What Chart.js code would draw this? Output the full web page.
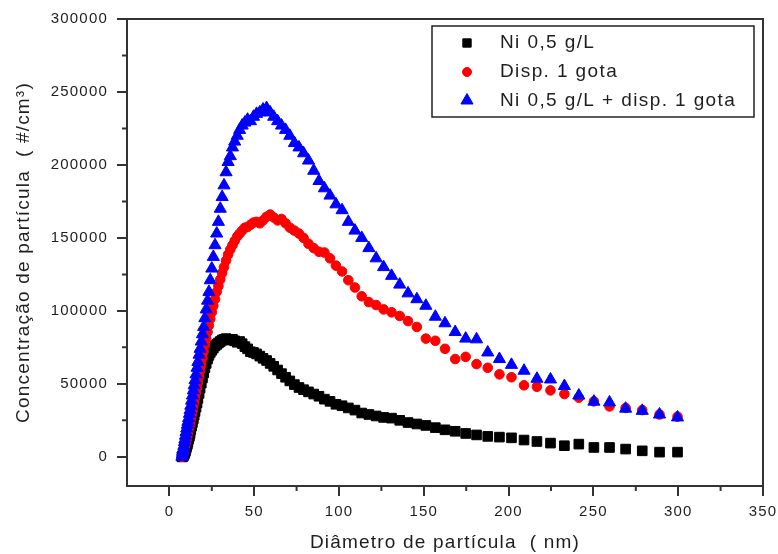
<!DOCTYPE html>
<html>
<head>
<meta charset="utf-8">
<script src="https://cdn.jsdelivr.net/npm/chart.js@4.4.0/dist/chart.umd.min.js"></script>
<style>
    body { margin: 0; background: #fff; }
</style>
</head>
<body>
<canvas id="size-chart" width="778" height="554"></canvas>
<script>
// particle diameter (nm), one value per sizer channel
const diameters = [
    7.37, 7.64, 7.91, 8.20, 8.51, 8.82, 9.14, 9.47, 9.82, 10.2,
    10.6, 10.9, 11.3, 11.8, 12.2, 12.6, 13.1, 13.6, 14.1, 14.6,
    15.1, 15.7, 16.3, 16.8, 17.5, 18.1, 18.8, 19.5, 20.2, 20.9,
    21.7, 22.5, 23.3, 24.1, 25.0, 25.9, 26.9, 27.9, 28.9, 30.0,
    31.1, 32.2, 33.4, 34.6, 35.9, 37.2, 38.5, 40.0, 41.4, 42.9,
    44.5, 46.1, 47.8, 49.6, 51.4, 53.3, 55.2, 57.3, 59.4, 61.5,
    63.8, 66.1, 68.5, 71.0, 73.7, 76.4, 79.1, 82.0, 85.1, 88.2,
    91.4, 94.7, 98.2, 101.8, 105.5, 109.4, 113.4, 117.6, 121.9, 126.3,
    131.0, 135.8, 140.7, 145.9, 151.2, 156.8, 162.5, 168.5, 174.7, 181.1,
    187.7, 194.6, 201.7, 209.1, 216.7, 224.7, 232.9, 241.4, 250.3, 259.5,
    269.0, 278.8, 289.0, 299.6
]

// Ni 0,5 g/L
const niConc = [
    0, 0, 300, 700, 1200, 2000, 3000, 4000, 5500, 7000,
    8500, 10000, 12000, 14000, 16000, 18500, 21000, 23500, 26000, 28500,
    31000, 34000, 37000, 40000, 43500, 47000, 50500, 54000, 57500, 61000,
    64000, 67000, 69500, 71500, 73000, 74500, 76000, 77000, 78000, 79000,
    80000, 80500, 81000, 80500, 80000, 80500, 79500, 78500, 79000, 77500,
    75500, 74000, 72000, 71500, 70500, 69000, 67500, 66000, 64000, 62000,
    59500, 57000, 54500, 52000, 49500, 47500, 46000, 44500, 43000, 41500,
    39500, 38000, 36000, 35000, 33500, 32000, 30000, 29000, 28000, 27000,
    26500, 25000, 23500, 22500, 21500, 20000, 18500, 17500, 16000, 15000,
    14000, 13500, 13000, 11500, 10500, 9400, 7600, 8700, 6400, 6400,
    5300, 4100, 3200, 3200
]

// Disp. 1 gota
const dispConc = [
    0, 500, 1500, 2500, 4000, 5500, 7000, 8500, 10500, 12500,
    14500, 16500, 18500, 21000, 23000, 25500, 28500, 31500, 34500, 37500,
    40500, 44000, 47500, 51000, 55000, 59000, 63000, 67500, 72000, 76500,
    81000, 85500, 90000, 94500, 99000, 103500, 108000, 113000, 117000, 121500,
    126000, 130000, 134500, 138500, 142000, 145000, 148000, 151000, 153000, 155000,
    157000, 157500, 159000, 160500, 161000, 160000, 162000, 164500, 166000, 164000,
    162000, 163000, 160000, 157000, 155000, 153000, 150000, 146000, 143000, 140500,
    140000, 136000, 131000, 127000, 121000, 116000, 110000, 106000, 104000, 101000,
    99000, 96500, 93000, 89000, 81000, 79500, 74000, 67000, 68500, 63500,
    61000, 56500, 54500, 49000, 48000, 45500, 43000, 40500, 38000, 34500,
    33500, 32000, 29000, 27500
]

// Ni 0,5 g/L + disp. 1 gota
const niDispConc = [
    0, 1500, 3500, 5500, 7500, 10000, 12000, 14500, 17000, 19500,
    22000, 24000, 26500, 29500, 32000, 35000, 38500, 42000, 45500, 49000,
    52500, 56500, 61000, 65000, 70000, 74000, 79000, 84000, 89000, 95000,
    101000, 107000, 113000, 121000, 129000, 137000, 145000, 153000, 161000, 170000,
    178000, 186000, 195000, 202000, 206000, 212000, 216000, 220000, 224000, 227000,
    229000, 231000, 230000, 233000, 235000, 236000, 238000, 239000, 236000, 233000,
    230000, 227000, 224000, 220000, 215000, 212000, 208000, 203000, 196000, 189000,
    184000, 179000, 173000, 169000, 161000, 155000, 150000, 143000, 136000, 130000,
    124000, 118000, 112000, 108000, 103500, 96000, 91500, 85500, 81000, 80500,
    71500, 67000, 63000, 59000, 53500, 53000, 48500, 42000, 37800, 37300,
    33000, 31500, 29000, 27000
]

const seriesNames = ['Ni 0,5 g/L', 'Disp. 1 gota', 'Ni 0,5 g/L + disp. 1 gota']
const xTickValues = [0, 50, 100, 150, 200, 250, 300, 350]
const yTickValues = [0, 50000, 100000, 150000, 200000, 250000, 300000]
const xMinorTicks = [25, 75, 125, 175, 225, 275, 325]
const yMinorTicks = [25000, 75000, 125000, 175000, 225000, 275000]

const fontFamily = "'Liberation Sans', Arial, sans-serif"
const axisColor = '#333'
const textColor = '#1e1e1e'

const toPoints = function (values) {
    return diameters.map((d, i) => ({x: d, y: values[i]}))
}

// top/right frame and the short minor ticks
const framePlugin = {
    id: 'frame',
    beforeDraw(chart) {
        chart.ctx.letterSpacing = '1.2px'
    },
    afterDatasetsDraw(chart) {
        const {ctx, chartArea: area, scales} = chart
        ctx.save()
        ctx.strokeStyle = axisColor
        ctx.lineWidth = 2
        ctx.beginPath()
        ctx.moveTo(area.left, area.top)
        ctx.lineTo(area.right, area.top)
        ctx.lineTo(area.right, area.bottom)
        xMinorTicks.forEach((v) => {
            const px = scales.x.getPixelForValue(v)
            ctx.moveTo(px, area.bottom)
            ctx.lineTo(px, area.bottom + 5)
        })
        yMinorTicks.forEach((v) => {
            const py = scales.y.getPixelForValue(v)
            ctx.moveTo(area.left, py)
            ctx.lineTo(area.left - 5, py)
        })
        ctx.stroke()
        ctx.restore()
    }
}

// boxed legend inside the plot, top right
const legendPlugin = {
    id: 'boxLegend',
    afterDraw(chart) {
        const {ctx, chartArea: area} = chart
        const boxW = 322, boxH = 91
        const left = area.right - 9 - boxW
        const top = area.top + 7
        const rows = [17, 46, 74.5]
        const markerSize = [5.9, 4.5, 7]
        ctx.save()
        ctx.strokeStyle = '#222'
        ctx.lineWidth = 1.5
        ctx.strokeRect(left, top, boxW, boxH)
        ctx.letterSpacing = '1.4px'
        ctx.font = '19px ' + fontFamily
        ctx.textBaseline = 'middle'
        ctx.textAlign = 'left'
        chart.data.datasets.forEach((ds, i) => {
            const y = top + rows[i]
            ctx.fillStyle = ds.backgroundColor
            ctx.strokeStyle = ds.borderColor
            ctx.lineWidth = 1
            Chart.helpers.drawPoint(ctx, {pointStyle: ds.pointStyle, radius: markerSize[i], rotation: 0, borderWidth: 1}, left + 35, y)
            ctx.fillStyle = textColor
            ctx.fillText(ds.label, left + 68, y)
        })
        ctx.restore()
    }
}

const chartCtx = document.getElementById('size-chart').getContext('2d')
const sizeChart = new Chart(chartCtx, {
    type: 'scatter',
    data: {
        datasets: [{
            label: seriesNames[0],
            data: toPoints(niConc),
            pointStyle: 'rect',
            pointRadius: 6.8,
            backgroundColor: '#000000',
            borderColor: '#000000',
            borderWidth: 1,
            order: 3
        }, {
            label: seriesNames[1],
            data: toPoints(dispConc),
            pointStyle: 'circle',
            pointRadius: 4.8,
            backgroundColor: '#ff0000',
            borderColor: '#ff0000',
            borderWidth: 1,
            order: 2
        }, {
            label: seriesNames[2],
            data: toPoints(niDispConc),
            pointStyle: 'triangle',
            pointRadius: 7,
            backgroundColor: '#0000ff',
            borderColor: '#0000ff',
            borderWidth: 1,
            order: 1
        }]
    },
    options: {
        responsive: false,
        animation: false,
        devicePixelRatio: 1,
        layout: {
            padding: {left: 0, right: 15, top: 19, bottom: 0}
        },
        plugins: {
            legend: {display: false},
            tooltip: {enabled: false}
        },
        scales: {
            x: {
                type: 'linear',
                min: -25,
                max: 350,
                afterBuildTicks(scale) {
                    scale.ticks = xTickValues.map((v) => ({value: v}))
                },
                ticks: {
                    padding: 7,
                    maxRotation: 0,
                    autoSkip: false,
                    color: textColor,
                    font: {family: fontFamily, size: 15},
                    callback: (v) => String(v)
                },
                grid: {
                    drawOnChartArea: false,
                    tickLength: 10,
                    color: axisColor,
                    lineWidth: 2
                },
                border: {color: axisColor, width: 2},
                title: {
                    display: true,
                    text: 'Diâmetro de partícula  ( nm)',
                    color: textColor,
                    font: {family: fontFamily, size: 19},
                    padding: {top: 0, bottom: 0}
                },
                afterFit(scale) {
                    scale.height = 68
                    scale.paddingLeft = 0
                    scale.paddingRight = 0
                }
            },
            y: {
                type: 'linear',
                min: -20000,
                max: 300000,
                afterBuildTicks(scale) {
                    scale.ticks = yTickValues.map((v) => ({value: v}))
                },
                ticks: {
                    padding: 9,
                    autoSkip: false,
                    color: textColor,
                    font: {family: fontFamily, size: 15},
                    callback: (v) => String(v)
                },
                grid: {
                    drawOnChartArea: false,
                    tickLength: 10,
                    color: axisColor,
                    lineWidth: 2
                },
                border: {color: axisColor, width: 2},
                title: {
                    display: true,
                    text: 'Concentração de partícula  ( #/cm³)',
                    color: textColor,
                    font: {family: fontFamily, size: 19},
                    padding: {top: 12, bottom: 0}
                },
                afterFit(scale) {
                    scale.width = 127
                    scale.paddingTop = 0
                    scale.paddingBottom = 0
                }
            }
        }
    },
    plugins: [framePlugin, legendPlugin]
});
</script>
</body>
</html>
